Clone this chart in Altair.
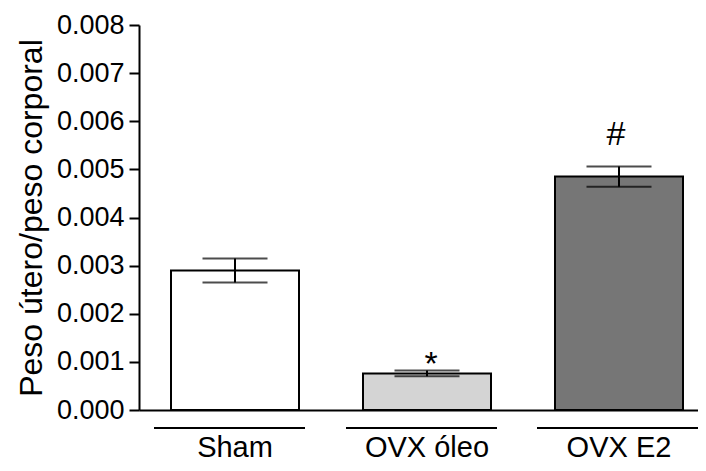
import altair as alt
import pandas as pd

groups = ["Sham", "OVX óleo", "OVX E2"]
means = [0.00290, 0.00076, 0.00485]
sems = [0.00025, 0.00006, 0.00021]
fills = ["#ffffff", "#d4d4d4", "#767676"]
marks = ["", "*", "#"]
y_ticks = [0.000, 0.001, 0.002, 0.003, 0.004, 0.005, 0.006, 0.007, 0.008]

df = pd.DataFrame({
    "grupo": groups,
    "media": means,
    "lo": [m - s for m, s in zip(means, sems)],
    "hi": [m + s for m, s in zip(means, sems)],
    "sig": marks,
})

FONT = "Liberation Sans"

x = alt.X(
    "grupo:N",
    sort=groups,
    scale=alt.Scale(range=[0, 576], paddingInner=1 / 3, paddingOuter=1 / 6),
    axis=alt.Axis(
        title=None, ticks=False, labelAngle=0, labelFont=FONT, labelFontSize=29,
        labelColor="black", labelPadding=46, domainColor="black", domainWidth=2,
        labelBaseline="alphabetic",
    ),
)
y = alt.Y(
    "media:Q",
    scale=alt.Scale(domain=[0, 0.008], nice=False),
    axis=alt.Axis(
        title="Peso útero/peso corporal", values=y_ticks, format=".3f",
        grid=False, tickSize=10, tickWidth=2, tickColor="black",
        domainColor="black", domainWidth=2, labelFont=FONT, labelFontSize=27,
        labelColor="black", labelPadding=5, titleFont=FONT, titleFontSize=32,
        titleFontWeight="normal", titleColor="black", titlePadding=8,
    ),
)

base = alt.Chart(df)

bars = base.mark_bar(stroke="black", strokeWidth=2).encode(
    x=x, y=y,
    fill=alt.Fill("grupo:N", scale=alt.Scale(domain=groups, range=fills), legend=None),
)

err = base.mark_rule(color="black", strokeWidth=2).encode(
    x=alt.X("grupo:N", sort=groups), y="lo:Q", y2="hi:Q"
)
cap_hi = base.mark_tick(color="black", thickness=2, size=65).encode(
    x=alt.X("grupo:N", sort=groups), y="hi:Q"
)
cap_lo = base.mark_tick(color="black", thickness=2, size=65).encode(
    x=alt.X("grupo:N", sort=groups), y="lo:Q"
)

star = base.transform_filter(alt.datum.sig == "*").mark_text(
    font=FONT, fontSize=34, color="black", baseline="alphabetic", dy=4, dx=4
).encode(x=alt.X("grupo:N", sort=groups), y="hi:Q", text="sig:N")

hash_ = base.transform_filter(alt.datum.sig == "#").mark_text(
    font=FONT, fontSize=34, color="black", baseline="alphabetic", dy=-21, dx=-3
).encode(x=alt.X("grupo:N", sort=groups), y="hi:Q", text="sig:N")

lines_a = base.transform_filter(alt.datum.grupo != "OVX E2").mark_rule(
    color="black", strokeWidth=2, xOffset=-81, x2Offset=70
).encode(x=alt.X("grupo:N", sort=groups), x2="grupo:N", y=alt.value(403))

lines_b = base.transform_filter(alt.datum.grupo == "OVX E2").mark_rule(
    color="black", strokeWidth=2, xOffset=-82, x2Offset=120
).encode(x=alt.X("grupo:N", sort=groups), x2="grupo:N", y=alt.value(403))

chart = alt.layer(bars, err, cap_hi, cap_lo, star, hash_, lines_a, lines_b).properties(
    width=559, height=385,
    autosize="none",
    padding={"left": 131, "top": 17, "right": 0, "bottom": 53},
    background="white",
).configure_view(stroke=None)

chart.save("out.html", embed_options={"renderer": "svg", "actions": False})
